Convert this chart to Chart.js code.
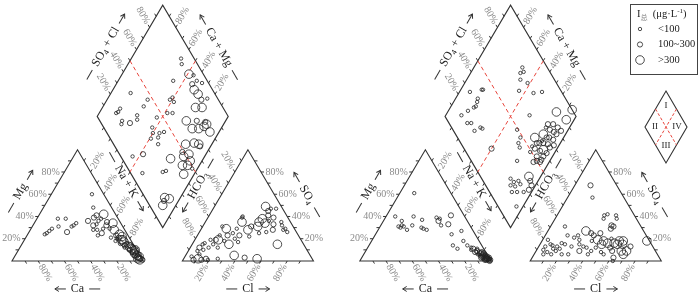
<!DOCTYPE html>
<html>
<head>
<meta charset="utf-8">
<script src="https://cdn.jsdelivr.net/npm/chart.js@4/dist/chart.umd.min.js"></script>
<style>
  html, body { margin: 0; padding: 0; background: #fff; }
  #wrap { width: 700px; height: 296px; }
</style>
</head>
<body>
<div id="wrap"><canvas id="piper"></canvas></div>
<script>
// samples, percent. size class: 1 = <100, 2 = 100~300, 3 = >300
const sizeLabels = ['<100', '100~300', '>300'];

// cation triangle: [Ca, Mg, size]
const leftCation = [
  [63,24,1],[61,25,1],[58,27,1],[55,29,1],[46,38,1],[40,38,1],[49,31,1],[45,26,2],[39,31,1],[37,32,1],[34,34,1],
  [9,60,1],[14,48,1],
  [24,36,2],[15,41,2],[9,42,3],[16,36,1],[10,35,2],[6,34,3],[11,29,1],[16,29,1],[21,28,1],[22,32,2],[24,28,1],
  [23,23,1],[19,25,2],[14,21,1],[8,28,3],[9,23,2],[6,24,3],[5,22,3],[6,19,3],[19,33,1],[13,38,1],[18,39,2],[12,32,2],
  [6,17,3],[5,15,2],[4,13,3],[7,14,2],[3,11,3],[5,10,2],[2,9,3],[4,8,2],[3,7,3],[1,6,2],[2,5,3],[4,5,2],[1,4,3],
  [2,3,2],[3,2,3],[1,2,2],[2,1,3],[0,1,2],[5,7,1],[6,10,1],[8,12,1],[3,4,1],[1,8,1],[2,12,2],[9,16,2],[7,19,3],
  [10,20,1],[12,18,1],[4,16,1],[8,21,2],[3,14,2],[1,10,3]
];
// anion triangle: [Cl, SO4, size]
const leftAnion = [
  [39,49,3],[43,45,2],[44,47,1],[48,47,1],[50,39,2],[45,41,2],[42,38,3],[41,35,3],[46,34,3],[48,36,1],[42,31,3],
  [37,31,2],[36,28,3],[28,35,3],[26,39,1],[26,40,1],[58,35,1],[63,28,1],[64,29,1],[65,15,3],[46,25,1],[51,26,1],
  [55,28,2],[60,32,1],[67,26,1],[53,33,2],
  [19,29,3],[15,31,1],[23,23,2],[26,25,1],[27,29,1],[32,23,2],[18,19,3],[16,19,2],[17,23,1],[12,19,1],[9,16,1],
  [8,15,1],[7,12,2],[7,9,1],[11,10,1],[14,12,1],[16,15,1],[28,15,3],[23,18,1],[37,5,3],[46,3,2],[56,2,3],[26,2,1],
  [8,1,2],[11,2,3],[14,1,2],[17,2,2],[19,1,1],[5,4,1],[10,6,1],[21,12,1],[30,20,1],[34,17,1],[40,22,1]
];
// diamond: [Ca+Mg, SO4+Cl, size]
const leftDiamond = [
  [62,90,1],[59,88,1],[49,89,3],[45,92,1],[58,74,1],[40,92,1],[42,87,2],[35,95,1],[38,86,3],[33,87,3],[28,87,2],
  [29,79,3],[24,84,3],[24,92,1],
  [51,66,1],[52,63,1],[48,65,1],[48,55,1],[44,59,1],[54,45,1],[69,40,1],[69,46,1],[85,36,1],[86,21,1],[86,18,1],
  [87,16,1],[79,17,1],[78,15,1],[72,22,2],[70,31,1],[68,29,1],[53,37,1],[50,35,1],[45,40,1],[42,44,1],[44,37,1],
  [49,31,1],[41,34,1],[48,18,2],[55,9,1],[40,9,1],[25,25,1],[23,28,1],
  [30,66,3],[22,67,3],[17,72,3],[14,77,3],[13,80,3],[7,79,3],[15,80,2],[22,74,2],[20,55,3],[14,62,3],[10,65,3],
  [8,65,2],[19,49,2],[16,48,3],[13,53,3],[9,51,3],[25,37,3],[13,43,3],[9,47,3],[8,40,3],[4,49,1],[12,15,3],
  [8,18,3],[10,10,3],[11,13,2]
];

const rightCation = [
  [28,61,1],[53,40,1],[50,36,1],[52,32,1],[55,31,1],[51,31,1],[50,28,1],[54,30,1],[39,40,1],[44,32,1],[34,37,1],
  [37,29,1],[35,28,1],[38,30,1],[22,39,1],[22,36,2],[22,32,1],[20,38,1],[10,41,2],[16,33,2],[18,24,1],[9,27,1],
  [22,14,1],[20,11,1],[12,18,1],
  [10,10,1],[8,8,2],[7,6,1],[6,9,2],[5,7,2],[4,5,2],[3,4,1],[2,3,2],[1,2,2],[2,1,1],[0,1,2],[3,6,2],[4,3,1],
  [5,4,2],[2,5,1],[1,4,2],[3,2,2],[1,1,2],[6,5,1],[7,8,1],[9,12,1],[8,11,2],[5,2,1],[4,1,2],[2,7,2],[6,3,2],
  [0,3,2],[1,6,1],[3,8,2],[5,11,1],[11,14,1],[2,2,2],[4,7,2],[3,1,2],[0,2,1],[1,0,2]
];
const rightAnion = [
  [12,68,2],[19,57,1],[36,41,1],[38,42,1],[37,38,1],[45,41,1],[47,38,1],[46,32,2],[48,31,2],[47,29,2],[11,31,1],
  [17,23,1],[29,27,3],[34,25,2],[37,23,2],[41,25,2],[25,23,1],[23,21,1],[28,19,1],[42,19,3],[47,18,3],[47,15,3],
  [51,16,3],[56,16,3],[59,15,3],[59,18,3],[63,15,3],[62,18,3],[69,9,3],[70,13,2],[68,6,3],[65,9,3],[80,18,3],
  [63,0,1],[62,3,2],[41,6,1],[42,9,1],[37,12,1],[33,9,2],[26,6,1],
  [4,19,1],[5,13,1],[5,10,1],[7,6,1],[8,15,1],[10,14,1],[12,11,1],[14,13,1],[16,16,1],[17,11,1],[9,8,1],[13,6,1],
  [15,9,1],[19,15,1],[25,13,1],[21,6,1],[50,8,1],[53,6,1],[34,13,1],[30,15,1],[55,12,2],[58,9,2],[52,20,1],
  [44,12,1],[38,18,1]
];
const rightDiamond = [
  [63,81,1],[60,80,1],[62,77,1],[52,78,1],[55,68,1],[43,78,1],[37,85,1],[36,65,1],[17,87,3],[6,100,3],[6,91,3],
  [14,79,2],[14,74,2],[13,68,2],[13,63,2],[12,57,2],[12,52,2],[12,47,2],[7,52,2],[7,77,2],[9,81,2],[7,72,2],
  [6,66,2],[6,61,2],[7,57,2],[17,54,2],[18,58,2],[18,75,2],[18,72,1],[19,49,1],[20,53,1],[22,59,3],[17,67,3],
  [10,50,2],[7,54,2],[9,37,3],[6,36,2],[3,31,2],[3,35,2],[10,60,3],[11,70,2],[9,66,2],[4,70,2],[5,82,2],[10,76,2],
  [15,63,1],[16,60,2],
  [32,44,1],[29,43,1],[25,35,1],[22,22,1],[18,23,1],[15,27,1],[12,27,1],[19,19,1],[15,22,1],[15,17,1],[11,21,1],
  [6,26,1],[5,14,1],[39,49,1],[33,48,1],
  [92,30,1],[84,40,1],[83,41,1],[83,33,1],[82,31,1],[81,28,1],[82,26,1],[85,20,1],[88,13,1],[80,14,1],[77,17,1],
  [71,16,1],[68,22,1],[66,23,1],[50,21,2],[59,74,1]
];

const tickLabels = [20, 40, 60, 80];

// geometry (triangle side = 100 units)
const S = 100, G = 30, H = S * Math.sqrt(3) / 2;
const OFFSETS = [0, 265.4];
const SERIF = '"Liberation Serif", "DejaVu Serif", serif';
const RADII = { 1: 1.7, 2: 2.6, 3: 4.3 };
const RED = '#e8453c';

function catXY(o, ca, mg) {
  const nak = 100 - ca - mg;
  return { x: o + (nak + mg / 2) / 100 * S, y: mg / 100 * H };
}
function anXY(o, cl, so4) {
  return { x: o + S + G + (cl + so4 / 2) / 100 * S, y: so4 / 100 * H };
}
function diaXY(o, camg, so4cl) {
  const bx = o + S + G / 2, by = G / 2 * Math.sqrt(3);
  return { x: bx + S / 2 * (so4cl - camg) / 100, y: by + H * (camg + so4cl) / 100 };
}
function toPoints(rows, fn, o) {
  return rows.map(r => { const p = fn(o, r[0], r[1]); return { x: p.x, y: p.y, s: r[2] }; });
}

const datasets = [];
[[leftCation, leftAnion, leftDiamond], [rightCation, rightAnion, rightDiamond]].forEach((set, i) => {
  const o = OFFSETS[i];
  datasets.push({ data: toPoints(set[0], catXY, o) });
  datasets.push({ data: toPoints(set[1], anXY, o) });
  datasets.push({ data: toPoints(set[2], diaXY, o) });
});
datasets.forEach(d => {
  d.pointRadius = c => (c.raw ? RADII[c.raw.s] : 2);
  d.pointBorderColor = '#222';
  d.pointBackgroundColor = 'rgba(255,255,255,0)';
  d.pointBorderWidth = 0.8;
  d.pointHoverRadius = c => (c.raw ? RADII[c.raw.s] : 2);
});

const R60 = Math.PI / 3;

function drawRich(ctx, segs, x, y, size, color) {
  let cx = x;
  segs.forEach(s => {
    const fs = (s.sub || s.sup) ? size * 0.68 : size;
    ctx.font = fs + 'px ' + (s.font || SERIF);
    ctx.fillStyle = s.color || color;
    const dy = s.sub ? size * 0.3 : s.sup ? -size * 0.32 : 0;
    ctx.fillText(s.t, cx, y + dy);
    cx += ctx.measureText(s.t).width;
  });
  return cx - x;
}
function richWidth(ctx, segs, size) {
  let w = 0;
  segs.forEach(s => {
    const fs = (s.sub || s.sup) ? size * 0.68 : size;
    ctx.font = fs + 'px ' + (s.font || SERIF);
    w += ctx.measureText(s.t).width;
  });
  return w;
}
function arrowLine(ctx, x1, x2, headAtEnd) {
  ctx.beginPath(); ctx.moveTo(x1, 0); ctx.lineTo(x2, 0); ctx.stroke();
  const hx = headAtEnd ? x2 : x1, d = headAtEnd ? -1 : 1;
  ctx.beginPath();
  ctx.moveTo(hx + d * 4, -2.5); ctx.lineTo(hx, 0); ctx.lineTo(hx + d * 4, 2.5);
  ctx.stroke();
}

const piperFrame = {
  id: 'piperFrame',
  beforeDatasetsDraw(chart) {
    const ctx = chart.ctx, xs = chart.scales.x, ys = chart.scales.y;
    const P = p => [xs.getPixelForValue(p.x), ys.getPixelForValue(p.y)];
    ctx.save();

    OFFSETS.forEach(o => {
      // outlines
      ctx.strokeStyle = '#333'; ctx.lineWidth = 1.1; ctx.setLineDash([]);
      [
        [catXY(o, 100, 0), catXY(o, 0, 0), catXY(o, 0, 100)],
        [anXY(o, 0, 0), anXY(o, 100, 0), anXY(o, 0, 100)],
        [diaXY(o, 0, 0), diaXY(o, 100, 0), diaXY(o, 100, 100), diaXY(o, 0, 100)]
      ].forEach(poly => {
        ctx.beginPath();
        poly.forEach((p, k) => { const q = P(p); k ? ctx.lineTo(q[0], q[1]) : ctx.moveTo(q[0], q[1]); });
        ctx.closePath(); ctx.stroke();
      });

      // red dashed divisions
      ctx.strokeStyle = RED; ctx.lineWidth = 1; ctx.setLineDash([4, 3]);
      [[diaXY(o, 100, 50), diaXY(o, 0, 50)], [diaXY(o, 50, 100), diaXY(o, 50, 0)]].forEach(l => {
        const a = P(l[0]), b = P(l[1]);
        ctx.beginPath(); ctx.moveTo(a[0], a[1]); ctx.lineTo(b[0], b[1]); ctx.stroke();
      });
      ctx.setLineDash([]);

      // edges: f(v) point, outward direction (screen), label rotation & alignment
      const c = Math.sqrt(3) / 2;
      const edges = [
        { f: v => catXY(o, v, 0), d: [0.5, c], rot: R60, align: 'left', lab: true },
        { f: v => catXY(o, 100 - v, v), d: [-1, 0], rot: 0, align: 'right', lab: true },
        { f: v => catXY(o, 0, 100 - v), d: [0.5, -c], rot: -R60, align: 'left', lab: true },
        { f: v => anXY(o, v, 0), d: [-0.5, c], rot: -R60, align: 'right', lab: true },
        { f: v => anXY(o, 100 - v, v), d: [1, 0], rot: 0, align: 'left', lab: true },
        { f: v => anXY(o, 0, 100 - v), d: [-0.5, -c], rot: R60, align: 'right', lab: true },
        { f: v => diaXY(o, 100, v), d: [-0.5, -c], rot: R60, align: 'right', lab: true },
        { f: v => diaXY(o, v, 100), d: [0.5, -c], rot: -R60, align: 'left', lab: true },
        { f: v => diaXY(o, v, 0), d: [-0.5, c], lab: false },
        { f: v => diaXY(o, 0, v), d: [0.5, c], lab: false }
      ];
      edges.forEach(e => {
        ctx.strokeStyle = '#333'; ctx.lineWidth = 1;
        for (let v = 10; v < 100; v += 10) {
          const q = P(e.f(v));
          ctx.beginPath(); ctx.moveTo(q[0], q[1]);
          ctx.lineTo(q[0] + e.d[0] * 3, q[1] + e.d[1] * 3); ctx.stroke();
        }
        if (!e.lab) return;
        ctx.fillStyle = '#8a8a8a'; ctx.font = '10px ' + SERIF;
        ctx.textAlign = e.align; ctx.textBaseline = 'middle';
        tickLabels.forEach(v => {
          const q = P(e.f(v));
          ctx.save();
          ctx.translate(q[0] + e.d[0] * 4.5, q[1] + e.d[1] * 4.5);
          ctx.rotate(e.rot);
          ctx.fillText(v + '%', 0, 0);
          ctx.restore();
        });
      });

      // axis titles
      const titles = [
        { at: catXY(o, 50, 50), n: [-c, -0.5], dist: 28, rot: -R60, segs: [{ t: 'Mg' }], lead: 'dash' },
        { at: catXY(o, 50, 0), n: [0, 1], dist: 28, rot: 0, segs: [{ t: 'Ca' }], lead: 'arrow' },
        { at: diaXY(o, 45, 0), n: [-c, 0.5], dist: 8, rot: R60, segs: [{ t: 'Na + K' }], lead: 'dash' },
        { at: diaXY(o, 0, 42), n: [c, 0.5], dist: 9, rot: -R60, segs: [{ t: 'HCO' }, { t: '3', sub: true }], lead: 'arrow' },
        { at: diaXY(o, 100, 50), n: [-c, -0.5], dist: 28, rot: -R60, segs: [{ t: 'SO' }, { t: '4', sub: true }, { t: ' + Cl' }], lead: 'dash' },
        { at: diaXY(o, 50, 100), n: [c, -0.5], dist: 27, rot: R60, segs: [{ t: 'Ca + Mg' }], lead: 'arrow' },
        { at: anXY(o, 53, 47), n: [c, -0.5], dist: 28, rot: R60, segs: [{ t: 'SO' }, { t: '4', sub: true }], lead: 'arrow' },
        { at: anXY(o, 50, 0), n: [0, 1], dist: 28, rot: 0, segs: [{ t: 'Cl' }], lead: 'dash' }
      ];
      titles.forEach(t => {
        const q = P(t.at);
        ctx.save();
        ctx.translate(q[0] + t.n[0] * t.dist, q[1] + t.n[1] * t.dist);
        ctx.rotate(t.rot);
        ctx.textAlign = 'left'; ctx.textBaseline = 'middle';
        const tw = richWidth(ctx, t.segs, 12), mw = 11, gap = 5;
        const x0 = -(tw + 2 * mw + 2 * gap) / 2;
        ctx.strokeStyle = '#333'; ctx.lineWidth = 1;
        if (t.lead === 'dash') {
          ctx.beginPath(); ctx.moveTo(x0, 0); ctx.lineTo(x0 + mw, 0); ctx.stroke();
          drawRich(ctx, t.segs, x0 + mw + gap, 0, 12, '#222');
          arrowLine(ctx, x0 + mw + 2 * gap + tw, x0 + 2 * mw + 2 * gap + tw, true);
        } else {
          arrowLine(ctx, x0, x0 + mw, false);
          drawRich(ctx, t.segs, x0 + mw + gap, 0, 12, '#222');
          const xe = x0 + mw + 2 * gap + tw;
          ctx.beginPath(); ctx.moveTo(xe, 0); ctx.lineTo(xe + mw, 0); ctx.stroke();
        }
        ctx.restore();
      });
    });
    ctx.restore();
  },
  afterDraw(chart) {
    const ctx = chart.ctx;
    ctx.save();
    // legend box
    ctx.strokeStyle = '#444'; ctx.lineWidth = 1;
    ctx.strokeRect(630.5, 4.5, 67, 70);
    ctx.textAlign = 'left'; ctx.textBaseline = 'middle';
    drawRich(ctx, [
      { t: 'I' },
      { t: '总', sub: true, font: '"Noto Sans CJK SC", sans-serif', color: '#888' },
      { t: '  (μg·L' }, { t: '-1', sup: true }, { t: ')' }
    ], 637, 14, 10.5, '#222');
    sizeLabels.forEach((lab, i) => {
      const y = 29 + i * 15.5;
      ctx.strokeStyle = '#222'; ctx.lineWidth = 0.8;
      ctx.beginPath(); ctx.arc(640, y, RADII[i + 1], 0, 2 * Math.PI); ctx.stroke();
      ctx.fillStyle = '#222'; ctx.font = '10.5px ' + SERIF;
      ctx.fillText(lab, 658, y);
    });
    // small key diamond
    const T = [666, 91], L = [645, 127], Rt = [687, 127], B = [666, 163];
    ctx.strokeStyle = '#333'; ctx.lineWidth = 1.1;
    ctx.beginPath(); ctx.moveTo(...T); ctx.lineTo(...Rt); ctx.lineTo(...B); ctx.lineTo(...L); ctx.closePath(); ctx.stroke();
    const mid = (a, b) => [(a[0] + b[0]) / 2, (a[1] + b[1]) / 2];
    ctx.strokeStyle = RED; ctx.lineWidth = 1; ctx.setLineDash([3, 2]);
    [[mid(L, T), mid(B, Rt)], [mid(T, Rt), mid(B, L)]].forEach(l => {
      ctx.beginPath(); ctx.moveTo(...l[0]); ctx.lineTo(...l[1]); ctx.stroke();
    });
    ctx.setLineDash([]);
    ctx.fillStyle = '#222'; ctx.font = '9px ' + SERIF; ctx.textAlign = 'center';
    ctx.fillText('I', 666, 106);
    ctx.fillText('II', 655, 127);
    ctx.fillText('IV', 677, 127);
    ctx.fillText('III', 666, 146);
    ctx.restore();
  }
};

const XMIN = -7 / 1.33, XMAX = 693 / 1.33, YMIN = (265 - 296) / 1.33, YMAX = 265 / 1.33;

new Chart(document.getElementById('piper'), {
  type: 'scatter',
  data: { datasets: datasets },
  options: {
    responsive: true,
    maintainAspectRatio: false,
    animation: false,
    events: [],
    layout: { padding: 0 },
    plugins: { legend: { display: false }, tooltip: { enabled: false } },
    scales: {
      x: { type: 'linear', display: false, min: XMIN, max: XMAX },
      y: { type: 'linear', display: false, min: YMIN, max: YMAX }
    }
  },
  plugins: [piperFrame]
});
</script>
</body>
</html>
